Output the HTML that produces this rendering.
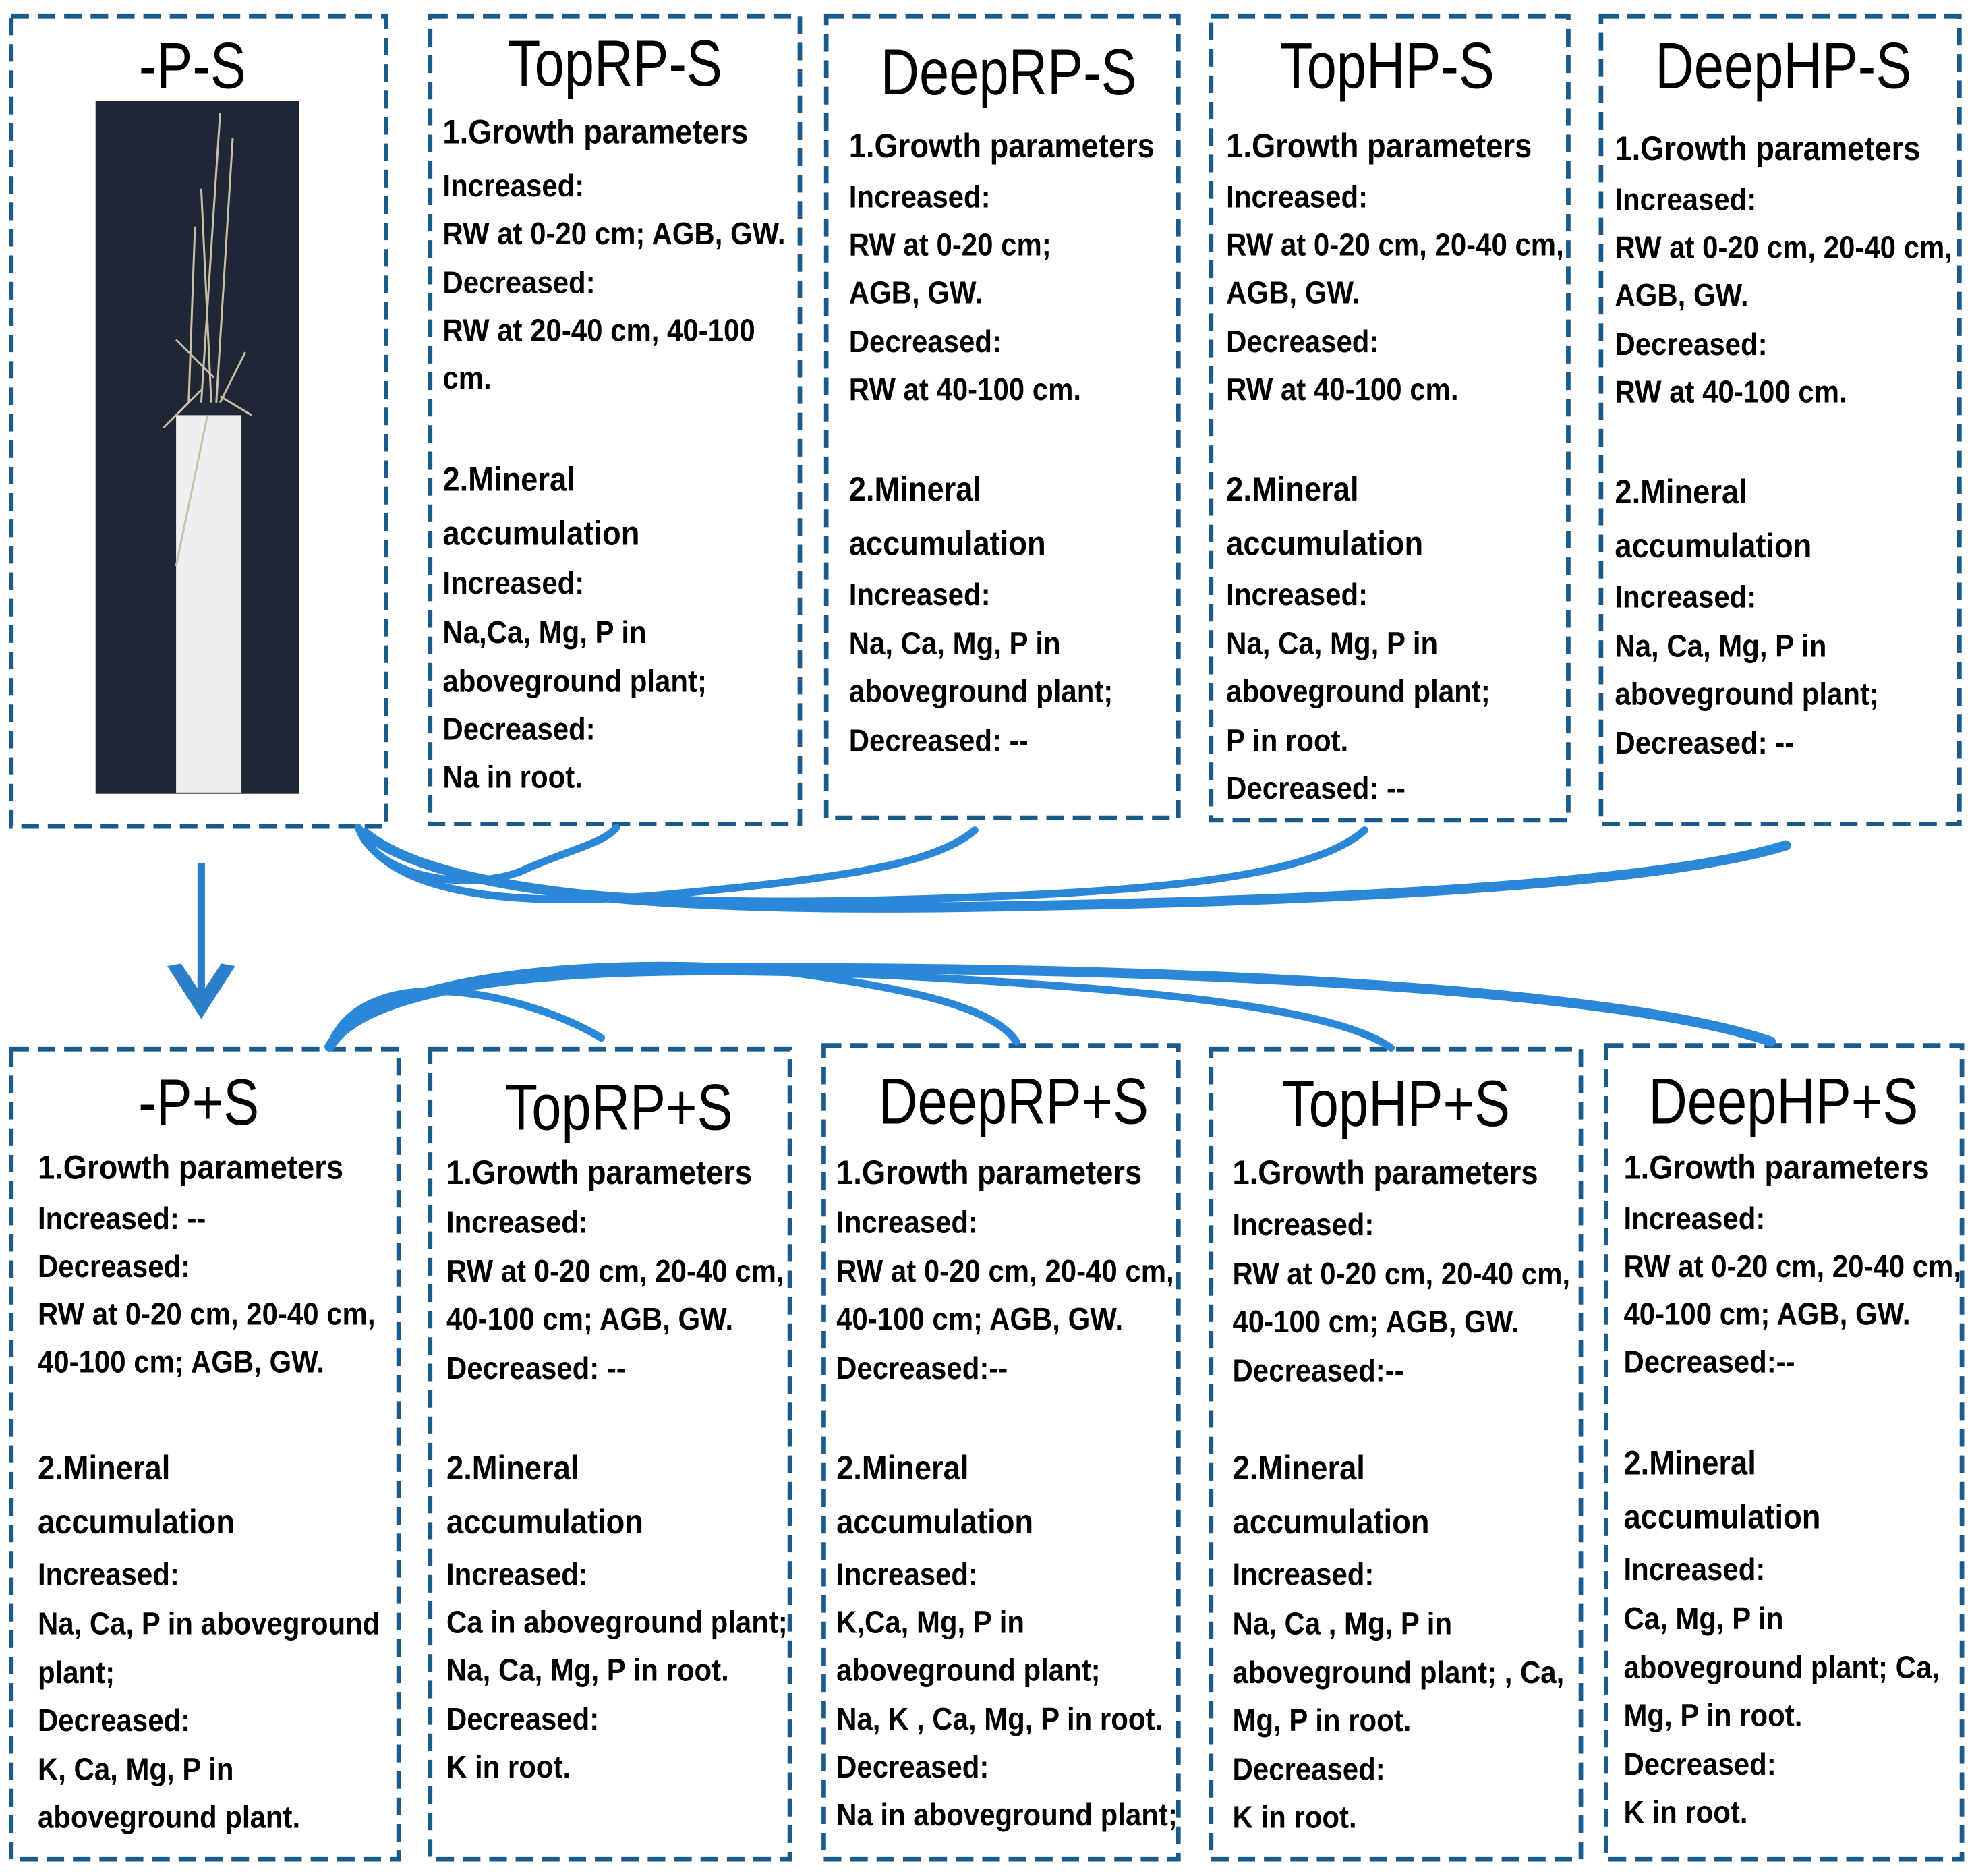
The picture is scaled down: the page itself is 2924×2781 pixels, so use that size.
<!DOCTYPE html>
<html><head><meta charset="utf-8">
<style>
html,body{margin:0;padding:0;background:#fff;width:2924px;height:2781px;overflow:hidden}
#w{position:absolute;left:0;top:0;width:1568px;height:1491px;transform:scale(1.8648);transform-origin:0 0}
svg{position:absolute;left:0;top:0}
.t{font-family:"Liberation Sans",sans-serif;font-weight:bold;font-size:25px;fill:#000}
.h{font-size:27px}
.ti{font-family:"Liberation Sans",sans-serif;font-size:52px;fill:#000;text-anchor:middle}
.b{fill:none;stroke:#1b5b8c;stroke-width:3.6;stroke-dasharray:14 7}
.a{fill:none;stroke:#2b88d8;stroke-linecap:round}
</style></head><body><div id="w">
<svg width="1568" height="1491" viewBox="0 0 1568 1491">
<rect class="b" x="9" y="13" width="298" height="644"/>
<rect class="b" x="342" y="13" width="294" height="642"/>
<rect class="b" x="657" y="13" width="280" height="637"/>
<rect class="b" x="963" y="13" width="284" height="639"/>
<rect class="b" x="1273" y="13" width="285" height="642"/>
<rect class="b" x="9" y="834" width="308" height="644"/>
<rect class="b" x="342" y="834" width="286" height="644"/>
<rect class="b" x="655" y="831" width="282" height="647"/>
<rect class="b" x="963" y="834" width="294" height="644"/>
<rect class="b" x="1277" y="831" width="283" height="647"/>
<!-- photo -->
<rect x="76" y="80" width="162" height="551" fill="#1f2636"/>
<rect x="140" y="330" width="52" height="300" fill="#eef0f0"/>
<g stroke="#c9bfa8" stroke-width="1.6" fill="none">
<path d="M160 320 L175 90"/><path d="M168 320 L160 150"/><path d="M172 320 L185 110"/><path d="M150 320 L155 180"/><path d="M165 330 L140 450"/><path d="M175 320 L195 280"/><path d="M140 270 L170 300"/><path d="M160 310 L130 340"/><path d="M175 315 L200 330"/>
</g>
<!-- titles -->
<g transform="translate(153,70) scale(0.82,1)"><text class="ti">-P-S</text></g>
<g transform="translate(489,68) scale(0.82,1)"><text class="ti">TopRP-S</text></g>
<g transform="translate(802,75) scale(0.82,1)"><text class="ti">DeepRP-S</text></g>
<g transform="translate(1103,70) scale(0.82,1)"><text class="ti">TopHP-S</text></g>
<g transform="translate(1418,70) scale(0.82,1)"><text class="ti">DeepHP-S</text></g>
<g transform="translate(158,894) scale(0.82,1)"><text class="ti">-P+S</text></g>
<g transform="translate(492,898) scale(0.82,1)"><text class="ti">TopRP+S</text></g>
<g transform="translate(806,893) scale(0.82,1)"><text class="ti">DeepRP+S</text></g>
<g transform="translate(1110,895) scale(0.82,1)"><text class="ti">TopHP+S</text></g>
<g transform="translate(1418,893) scale(0.82,1)"><text class="ti">DeepHP+S</text></g>
<!-- TopRP-S -->
<g class="t" transform="translate(352,0) scale(0.9,1)">
<text class="h" y="114">1.Growth parameters</text><text y="156">Increased:</text><text y="194">RW at 0-20 cm; AGB, GW.</text><text y="233">Decreased:</text><text y="271">RW at 20-40 cm, 40-100</text><text y="309">cm.</text>
<text class="h" y="390">2.Mineral</text><text class="h" y="433">accumulation</text><text y="472">Increased:</text><text y="511">Na,Ca, Mg, P in</text><text y="550">aboveground plant;</text><text y="588">Decreased:</text><text y="626">Na in root.</text>
</g>
<g class="t" transform="translate(675,0) scale(0.9,1)">
<text class="h" y="125">1.Growth parameters</text><text y="165">Increased:</text><text y="203">RW at 0-20 cm;</text><text y="241">AGB, GW.</text><text y="280">Decreased:</text><text y="318">RW at 40-100 cm.</text>
<text class="h" y="398">2.Mineral</text><text class="h" y="441">accumulation</text><text y="481">Increased:</text><text y="520">Na, Ca, Mg, P in</text><text y="558">aboveground plant;</text><text y="597">Decreased: --</text>
</g>
<g class="t" transform="translate(975,0) scale(0.9,1)">
<text class="h" y="125">1.Growth parameters</text><text y="165">Increased:</text><text y="203">RW at 0-20 cm, 20-40 cm,</text><text y="241">AGB, GW.</text><text y="280">Decreased:</text><text y="318">RW at 40-100 cm.</text>
<text class="h" y="398">2.Mineral</text><text class="h" y="441">accumulation</text><text y="481">Increased:</text><text y="520">Na, Ca, Mg, P in</text><text y="558">aboveground plant;</text><text y="597">P in root.</text><text y="635">Decreased: --</text>
</g>
<g class="t" transform="translate(1284,0) scale(0.9,1)">
<text class="h" y="127">1.Growth parameters</text><text y="167">Increased:</text><text y="205">RW at 0-20 cm, 20-40 cm,</text><text y="243">AGB, GW.</text><text y="282">Decreased:</text><text y="320">RW at 40-100 cm.</text>
<text class="h" y="400">2.Mineral</text><text class="h" y="443">accumulation</text><text y="483">Increased:</text><text y="522">Na, Ca, Mg, P in</text><text y="560">aboveground plant;</text><text y="599">Decreased: --</text>
</g>
<!-- bottom -->
<g class="t" transform="translate(30,0) scale(0.9,1)">
<text class="h" y="937">1.Growth parameters</text><text y="977">Increased: --</text><text y="1015">Decreased:</text><text y="1053">RW at 0-20 cm, 20-40 cm,</text><text y="1091">40-100 cm; AGB, GW.</text>
<text class="h" y="1176">2.Mineral</text><text class="h" y="1219">accumulation</text><text y="1260">Increased:</text><text y="1299">Na, Ca, P in aboveground</text><text y="1338">plant;</text><text y="1376">Decreased:</text><text y="1415">K, Ca, Mg, P in</text><text y="1453">aboveground plant.</text>
</g>
<g class="t" transform="translate(355,0) scale(0.9,1)">
<text class="h" y="941">1.Growth parameters</text><text y="980">Increased:</text><text y="1019">RW at 0-20 cm, 20-40 cm,</text><text y="1057">40-100 cm; AGB, GW.</text><text y="1096">Decreased: --</text>
<text class="h" y="1176">2.Mineral</text><text class="h" y="1219">accumulation</text><text y="1260">Increased:</text><text y="1298">Ca in aboveground plant;</text><text y="1336">Na, Ca, Mg, P in root.</text><text y="1375">Decreased:</text><text y="1413">K in root.</text>
</g>
<g class="t" transform="translate(665,0) scale(0.9,1)">
<text class="h" y="941">1.Growth parameters</text><text y="980">Increased:</text><text y="1019">RW at 0-20 cm, 20-40 cm,</text><text y="1057">40-100 cm; AGB, GW.</text><text y="1096">Decreased:--</text>
<text class="h" y="1176">2.Mineral</text><text class="h" y="1219">accumulation</text><text y="1260">Increased:</text><text y="1298">K,Ca, Mg, P in</text><text y="1336">aboveground plant;</text><text y="1375">Na, K , Ca, Mg, P in root.</text><text y="1413">Decreased:</text><text y="1451">Na in aboveground plant;</text>
</g>
<g class="t" transform="translate(980,0) scale(0.9,1)">
<text class="h" y="941">1.Growth parameters</text><text y="982">Increased:</text><text y="1021">RW at 0-20 cm, 20-40 cm,</text><text y="1059">40-100 cm; AGB, GW.</text><text y="1098">Decreased:--</text>
<text class="h" y="1176">2.Mineral</text><text class="h" y="1219">accumulation</text><text y="1260">Increased:</text><text y="1299">Na, Ca , Mg, P in</text><text y="1338">aboveground plant; , Ca,</text><text y="1376">Mg, P  in root.</text><text y="1415">Decreased:</text><text y="1453">K in root.</text>
</g>
<g class="t" transform="translate(1291,0) scale(0.9,1)">
<text class="h" y="937">1.Growth parameters</text><text y="977">Increased:</text><text y="1015">RW at 0-20 cm, 20-40 cm,</text><text y="1053">40-100 cm; AGB, GW.</text><text y="1091">Decreased:--</text>
<text class="h" y="1172">2.Mineral</text><text class="h" y="1215">accumulation</text><text y="1256">Increased:</text><text y="1295">Ca, Mg, P in</text><text y="1334">aboveground plant;  Ca,</text><text y="1372">Mg, P in root.</text><text y="1411">Decreased:</text><text y="1449">K in root.</text>
</g>
<!-- down arrow -->
<line x1="160" y1="686" x2="160" y2="790" stroke="#2b7fc8" stroke-width="6"/>
<path d="M133 768 L160 810 L187 768 L176 766 L160 790 L144 766 Z" fill="#2b7fc8"/>
<!-- top connectors -->
<path class="a" d="M285 658 C300 700 380 710 420 690 C455 675 480 670 490 658" stroke-width="6"/>
<path class="a" d="M285 658 C310 715 420 720 520 712 C650 700 740 690 775 660" stroke-width="6"/>
<path class="a" d="M290 662 C350 715 550 720 720 715 C900 710 1040 700 1085 660" stroke-width="6"/>
<path class="a" d="M290 662 C360 720 600 725 820 720 C1100 715 1330 700 1420 672" stroke-width="8"/>
<!-- bottom connectors -->
<path class="a" d="M262 832 C290 760 420 790 478 825" stroke-width="6"/>
<path class="a" d="M262 832 C300 770 500 760 620 772 C720 785 790 800 808 828" stroke-width="6"/>
<path class="a" d="M262 832 C310 765 550 770 700 775 C900 785 1060 800 1106 833" stroke-width="6"/>
<path class="a" d="M262 832 C300 770 500 768 700 770 C1000 772 1300 790 1408 828" stroke-width="8"/>
</svg>
</div></body></html>
